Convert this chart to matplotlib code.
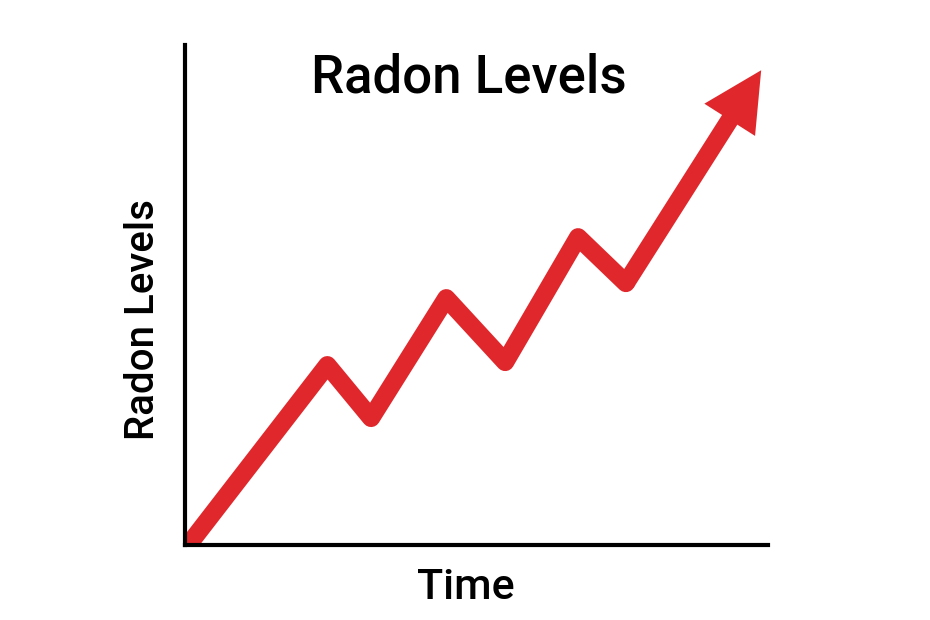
import matplotlib
matplotlib.use("Agg")
import matplotlib.pyplot as plt
import numpy as np

# puntos de la linea (tiempo, nivel de radon), el ultimo es la punta de la flecha
tiempo = [0.9, 24.4, 31.9, 44.8, 54.9, 67.4, 75.6, 98.8]
radon = [0.5, 36.0, 25.4, 49.4, 36.6, 61.6, 52.4, 95.0]

titulo = "Radon Levels"
etiqueta_x = "Time"
etiqueta_y = "Radon Levels"

rojo = "#e0282c"

plt.rcParams["font.family"] = ["Roboto", "DejaVu Sans"]

fig = plt.figure(figsize=(9.3, 6.2), dpi=100)
ax = fig.add_axes([0.199, 0.121, 0.627, 0.806])
ax.set_xlim(0, 100)
ax.set_ylim(0, 100)

ax.plot(tiempo[:-1], radon[:-1], color=rojo, lw=13,
        solid_joinstyle="round", solid_capstyle="round")
ax.annotate("", xy=(tiempo[-1], radon[-1]), xytext=(tiempo[-2], radon[-2]),
            arrowprops=dict(arrowstyle="-|>,head_length=2.15,head_width=1.1",
                            color=rojo, lw=13, shrinkA=0, shrinkB=0,
                            joinstyle="miter", capstyle="butt"))

for lado in ["top", "right"]:
    ax.spines[lado].set_visible(False)
for lado in ["left", "bottom"]:
    ax.spines[lado].set_linewidth(3)
ax.set_xticks([])
ax.set_yticks([])

ax.text(0.487, 0.935, titulo, transform=ax.transAxes, ha="center", va="center",
        fontsize=38, fontweight="medium")
ax.set_xlabel(etiqueta_x, fontsize=31, fontweight="medium")
ax.set_ylabel(etiqueta_y, fontsize=29, fontweight="medium")
ax.xaxis.set_label_coords(0.482, -0.045)
ax.yaxis.set_label_coords(-0.04, 0.452)

fig.savefig("out.png", dpi=100)
